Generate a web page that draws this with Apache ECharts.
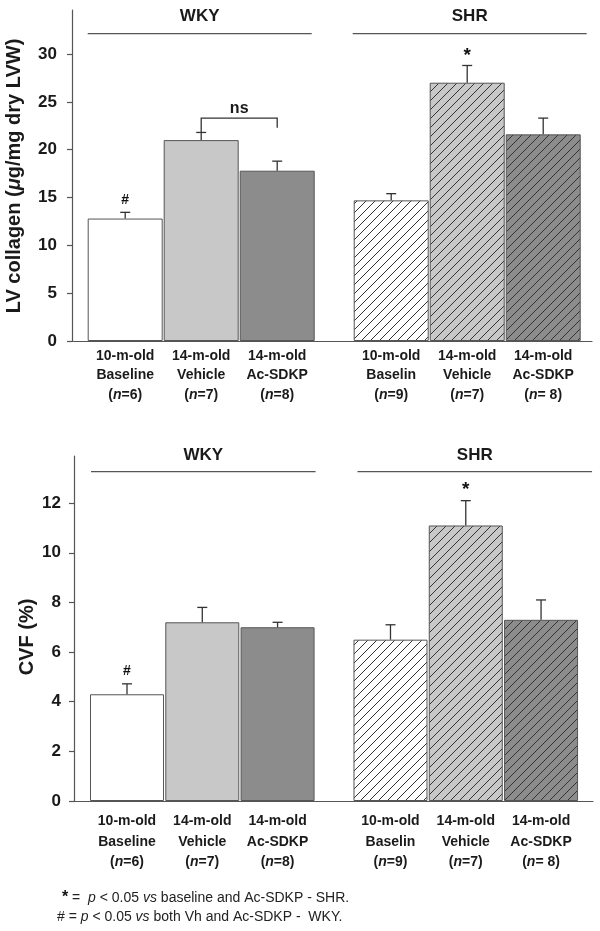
<!DOCTYPE html>
<html>
<head>
<meta charset="utf-8">
<script src="https://cdn.jsdelivr.net/npm/echarts@6/dist/echarts.min.js"></script>
<style>html,body{margin:0;padding:0;background:#fff}#c{width:600px;height:931px}</style>
</head>
<body>
<div id="c"></div>
<script>
// ---- data ----
const barPos = [0, 1, 2, 3.5, 4.5, 5.5];
const catLine1 = ['10-m-old', '14-m-old', '14-m-old', '10-m-old', '14-m-old', '14-m-old'];
const catLine2 = ['Baseline', 'Vehicle', 'Ac-SDKP', 'Baselin', 'Vehicle', 'Ac-SDKP'];
const catN = ['=6', '=7', '=8', '=9', '=7', '= 8'];
const collagenMean = [12.8, 21.0, 17.8, 14.7, 27.0, 21.6];
const collagenSem = [0.65, 0.8, 1.0, 0.7, 1.8, 1.7];
const collagenSig = ['#', '', '', '', '*', ''];
const cvfMean = [4.3, 7.2, 7.0, 6.5, 11.1, 7.3];
const cvfSem = [0.42, 0.6, 0.2, 0.6, 1.0, 0.8];
const cvfSig = ['#', '', '', '', '*', ''];
const collagenTicks = [0, 5, 10, 15, 20, 25, 30];
const cvfTicks = [0, 2, 4, 6, 8, 10, 12];
const groupNames = ['WKY', 'SHR'];
const groupMembers = [[0, 2], [3, 5]];
// ns bracket: [from bar, to bar, bracket level, left leg end, right leg end]
const nsBracket = [1, 2, 23.3, 21.8, 22.3];

const FF = "'Liberation Sans', Arial, Helvetica, sans-serif";
const TXT = '#1a1a1a';
const AX = '#555';

function hatch(bg) {
  const s = 9;
  const c = document.createElement('canvas');
  c.width = s; c.height = s;
  const g = c.getContext('2d');
  g.fillStyle = bg; g.fillRect(0, 0, s, s);
  g.strokeStyle = '#333'; g.lineWidth = 1;
  g.beginPath();
  g.moveTo(0, s); g.lineTo(s, 0);
  g.moveTo(-1, 1); g.lineTo(1, -1);
  g.moveTo(s - 1, s + 1); g.lineTo(s + 1, s - 1);
  g.stroke();
  return { image: c, repeat: 'repeat' };
}
const fills = ['#ffffff', '#c8c8c8', '#8c8c8c', hatch('#ffffff'), hatch('#c8c8c8'), hatch('#8c8c8c')];

function idxOf(v) {
  let best = 0, d = 1e9;
  barPos.forEach((p, i) => { if (Math.abs(p - v) < d) { d = Math.abs(p - v); best = i; } });
  return best;
}

function mkX(gi, min, max, margin, lh) {
  return {
    type: 'value', gridIndex: gi, min: min, max: max,
    axisLine: { show: true, onZero: false, lineStyle: { color: AX, width: 1.2 } },
    axisTick: { show: false }, splitLine: { show: false },
    axisLabel: {
      customValues: barPos, margin: margin,
      formatter: function (v) {
        const i = idxOf(v);
        return '{b|' + catLine1[i] + '}\n{b|' + catLine2[i] + '}\n{b|(}{i|n}{b|' + catN[i] + ')}';
      },
      rich: {
        b: { fontFamily: FF, fontSize: 14, fontWeight: 'bold', color: TXT, lineHeight: lh },
        i: { fontFamily: FF, fontSize: 14, fontWeight: 'bold', fontStyle: 'italic', color: TXT, lineHeight: lh }
      }
    }
  };
}
function mkY(gi, max, interval, ticks, margin) {
  return {
    type: 'value', gridIndex: gi, min: 0, max: max, interval: interval,
    axisLine: { show: true, onZero: false, lineStyle: { color: AX, width: 1.2 } },
    axisTick: { show: true, length: 5, customValues: ticks, lineStyle: { color: AX, width: 1.2 } },
    axisLabel: { customValues: ticks, margin: margin, fontFamily: FF, fontSize: 17, fontWeight: 'bold', color: TXT },
    splitLine: { show: false }
  };
}

function barSeries(ai, mean, width) {
  return {
    type: 'bar', xAxisIndex: ai, yAxisIndex: ai, barWidth: width, silent: true,
    itemStyle: { borderColor: AX, borderWidth: 1 },
    data: barPos.map((x, i) => ({ value: [x, mean[i]], itemStyle: { color: fills[i] } }))
  };
}

function errSeries(ai, mean, sem, sig, off) {
  return {
    type: 'custom', xAxisIndex: ai, yAxisIndex: ai, silent: true, z: 5,
    data: barPos.map((x, i) => [x, mean[i], mean[i] + sem[i]]),
    renderItem: function (params, api) {
      const p0 = api.coord([api.value(0), api.value(1)]);
      const p1 = api.coord([api.value(0), api.value(2)]);
      const ls = { stroke: '#333', lineWidth: 1.3 };
      const ch = [
        { type: 'line', shape: { x1: p0[0], y1: p0[1], x2: p1[0], y2: p1[1] }, style: ls },
        { type: 'line', shape: { x1: p1[0] - 5, y1: p1[1], x2: p1[0] + 5, y2: p1[1] }, style: ls }
      ];
      const s = sig[params.dataIndex];
      if (s) ch.push({ type: 'text', x: p1[0], y: p1[1] - off + (s === '*' ? 2 : 0),
        style: { text: s, fill: '#111', fontFamily: FF, fontSize: s === '*' ? 19 : 14, fontWeight: 'bold', align: 'center', verticalAlign: 'middle' } });
      return { type: 'group', children: ch };
    }
  };
}

function groupSeries(ai, half, titleOff, lineOff, ext) {
  return {
    type: 'custom', xAxisIndex: ai, yAxisIndex: ai, silent: true, z: 5,
    data: groupMembers.map(m => [barPos[m[0]], barPos[m[1]]]),
    renderItem: function (params, api) {
      const i = params.dataIndex;
      const cs = params.coordSys;
      const a = api.coord([api.value(0), 0]);
      const b = api.coord([api.value(1), 0]);
      const x1 = a[0] - half + ext[i][0], x2 = b[0] + half + ext[i][1];
      return { type: 'group', children: [
        { type: 'line', shape: { x1: x1, y1: cs.y + lineOff, x2: x2, y2: cs.y + lineOff }, style: { stroke: AX, lineWidth: 1.3 } },
        { type: 'text', x: (x1 + x2) / 2, y: cs.y + titleOff,
          style: { text: groupNames[i], fill: TXT, fontFamily: FF, fontSize: 17, fontWeight: 'bold', align: 'center', verticalAlign: 'middle' } }
      ] };
    }
  };
}

const bracketSeries = {
  type: 'custom', xAxisIndex: 0, yAxisIndex: 0, silent: true, z: 5,
  data: [[barPos[nsBracket[0]], barPos[nsBracket[1]], nsBracket[2], nsBracket[3], nsBracket[4]]],
  renderItem: function (params, api) {
    const pL = api.coord([api.value(0), api.value(2)]);
    const pR = api.coord([api.value(1), api.value(2)]);
    const pLe = api.coord([api.value(0), api.value(3)]);
    const pRe = api.coord([api.value(1), api.value(4)]);
    return { type: 'group', children: [
      { type: 'polyline', shape: { points: [pLe, pL, pR, pRe] }, style: { stroke: '#333', lineWidth: 1.3, fill: null } },
      { type: 'text', x: (pL[0] + pR[0]) / 2, y: pL[1] - 10,
        style: { text: 'ns', fill: TXT, fontFamily: FF, fontSize: 16, fontWeight: 'bold', align: 'center', verticalAlign: 'middle' } }
    ] };
  }
};

const chart = echarts.init(document.getElementById('c'), null, { renderer: 'canvas' });
chart.setOption({
  animation: false,
  backgroundColor: '#ffffff',
  grid: [
    { left: 72, top: 10, width: 520, height: 331 },
    { left: 74, top: 456, width: 519, height: 345 }
  ],
  xAxis: [mkX(0, -0.7, 6.142, 5, 19.5), mkX(1, -0.704, 6.19, 10, 20.5)],
  yAxis: [mkY(0, 34.6, 5, collagenTicks, 15), mkY(1, 13.9, 2, cvfTicks, 13)],
  series: [
    barSeries(0, collagenMean, 75),
    errSeries(0, collagenMean, collagenSem, collagenSig, 12),
    bracketSeries,
    groupSeries(0, 37.5, 6, 23.7, [[0, -3], [-1, 6]]),
    barSeries(1, cvfMean, 74),
    errSeries(1, cvfMean, cvfSem, cvfSig, 13),
    groupSeries(1, 37, -1, 15.7, [[1, 1], [4, 14]])
  ],
  graphic: [
    { type: 'text', x: 14, y: 176, rotation: Math.PI / 2, silent: true,
      style: { text: '{b|LV collagen (}{i|\u03bc}{b|g/mg dry LVW)}', align: 'center', verticalAlign: 'middle',
        rich: { b: { fontFamily: FF, fontSize: 20, fontWeight: 'bold', fill: TXT },
                i: { fontFamily: FF, fontSize: 20, fontWeight: 'bold', fontStyle: 'italic', fill: TXT } } } },
    { type: 'text', x: 27, y: 637, rotation: Math.PI / 2, silent: true,
      style: { text: 'CVF (%)', align: 'center', verticalAlign: 'middle', fontFamily: FF, fontSize: 20, fontWeight: 'bold', fill: TXT } },
    { type: 'text', x: 62, y: 898, silent: true,
      style: { text: '{s|*} =  {i|p} < 0.05 {i|vs} baseline and Ac-SDKP - SHR.', align: 'left', verticalAlign: 'middle',
        fontFamily: FF, fontSize: 14, fill: '#222',
        rich: { s: { fontFamily: FF, fontSize: 16, fontWeight: 'bold', fill: '#111' },
                i: { fontFamily: FF, fontSize: 14, fontStyle: 'italic', fill: '#222' } } } },
    { type: 'text', x: 57, y: 917, silent: true,
      style: { text: '# = {i|p} < 0.05 {i|vs} both Vh and Ac-SDKP -  WKY.', align: 'left', verticalAlign: 'middle',
        fontFamily: FF, fontSize: 14, fill: '#222',
        rich: { i: { fontFamily: FF, fontSize: 14, fontStyle: 'italic', fill: '#222' } } } }
  ]
});
</script>
</body>
</html>
